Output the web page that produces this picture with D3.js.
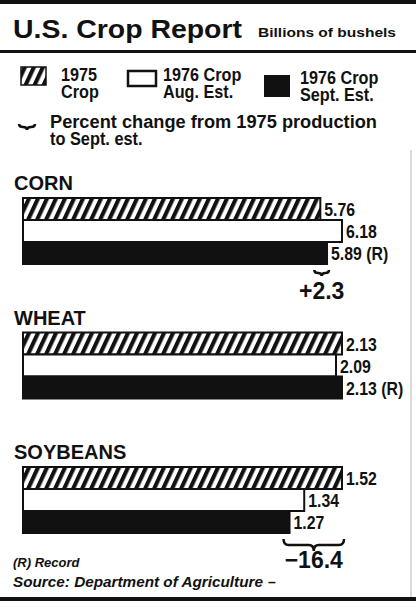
<!DOCTYPE html>
<html>
<head>
<meta charset="utf-8">
<script src="https://cdn.jsdelivr.net/npm/d3@7"></script>
<style>
  body { margin: 0; background: #fff; }
  svg { display: block; }
  .sans { font-family: "Liberation Sans", Arial, sans-serif; font-weight: bold; }
</style>
</head>
<body>
<svg id="chart"></svg>
<script>
// data, billions of bushels
const crops = ['CORN', 'WHEAT', 'SOYBEANS'];
const seriesKeys = ['1975', 'aug', 'sept'];
const crop1975 = [5.76, 2.13, 1.52];
const crop1976Aug = [6.18, 2.09, 1.34];
const crop1976Sept = [5.89, 2.13, 1.27];
const isRecord = [true, true, false];
const legendLabels = [['1975', 'Crop'], ['1976 Crop', 'Aug. Est.'], ['1976 Crop', 'Sept. Est.']];

const width = 416, height = 607;
const ink = '#111';

const svg = d3.select('#chart').attr('width', width).attr('height', height);

// newspaper type is condensed, so squeeze the bold sans horizontally
function condensed(parent, X, Y, size, sx) {
    return parent.append('text')
        .attr('class', 'sans')
        .attr('transform', `translate(${X},${Y}) scale(${sx},1)`)
        .attr('x', 0).attr('y', 0)
        .attr('font-size', size)
        .attr('fill', ink);
}

const defs = svg.append('defs');
const hatch = defs.append('pattern')
    .attr('id', 'hatch')
    .attr('patternUnits', 'userSpaceOnUse')
    .attr('width', 9).attr('height', 9)
    .attr('patternTransform', 'skewX(-25)');
hatch.append('rect').attr('width', 9).attr('height', 9).attr('fill', '#fff');
hatch.append('rect').attr('width', 4.5).attr('height', 9).attr('fill', ink);

const fills = {'1975': 'url(#hatch)', 'aug': '#fff', 'sept': ink};

// rules
svg.append('rect').attr('x', 0).attr('y', 0).attr('width', width).attr('height', 4).attr('fill', ink);
svg.append('rect').attr('x', 0).attr('y', 50).attr('width', width).attr('height', 3).attr('fill', ink);
svg.append('rect').attr('x', 0).attr('y', 597).attr('width', width).attr('height', 4).attr('fill', ink);
svg.append('line').attr('x1', 411).attr('x2', 411).attr('y1', 150).attr('y2', 597)
    .attr('stroke', '#ccc').attr('stroke-width', 1.5);

// title
svg.append('text').attr('class', 'sans')
    .attr('x', 13).attr('y', 38)
    .attr('font-size', 26)
    .attr('textLength', 229).attr('lengthAdjust', 'spacingAndGlyphs')
    .attr('fill', ink)
    .text('U.S. Crop Report');
svg.append('text').attr('class', 'sans')
    .attr('x', 258).attr('y', 37)
    .attr('font-size', 13)
    .attr('textLength', 138).attr('lengthAdjust', 'spacingAndGlyphs')
    .attr('fill', ink)
    .text('Billions of bushels');

// legend
const textX = [61, 163, 300];
const legend = svg.append('g');
legend.append('rect').attr('x', 21).attr('y', 67).attr('width', 25).attr('height', 18)
    .attr('fill', 'url(#hatch)').attr('stroke', ink).attr('stroke-width', 1.5);
legend.append('rect').attr('x', 128).attr('y', 71).attr('width', 28).attr('height', 15)
    .attr('fill', '#fff').attr('stroke', ink).attr('stroke-width', 2.5);
legend.append('rect').attr('x', 264).attr('y', 75).attr('width', 26).attr('height', 22)
    .attr('fill', ink);
legendLabels.forEach((lines, i) => {
    const t = condensed(legend, textX[i], 81 + (i === 2 ? 3 : 0), 18, 0.9);
    lines.forEach((l, j) => t.append('tspan').attr('x', 0).attr('dy', j ? 17 : 0).text(l));
});

function bracePath(x0, x1, y, h) {
    const xm = (x0 + x1) / 2, r = Math.min(5, (x1 - x0) / 4), mid = y + h / 2;
    return `M${x0},${y} Q${x0},${mid} ${x0 + r},${mid} L${xm - r},${mid} Q${xm},${mid} ${xm},${y + h}` +
        ` Q${xm},${mid} ${xm + r},${mid} L${x1 - r},${mid} Q${x1},${mid} ${x1},${y}`;
}

legend.append('path').attr('d', bracePath(19, 35, 124, 6))
    .attr('fill', 'none').attr('stroke', ink).attr('stroke-width', 2.5);
const pctNote = condensed(legend, 50, 128, 19, 0.86);
pctNote.append('tspan').attr('x', 0)
    .attr('textLength', 327 / 0.86).attr('lengthAdjust', 'spacingAndGlyphs')
    .text('Percent change from 1975 production');
pctNote.append('tspan').attr('x', 0).attr('dy', 17).text('to Sept. est.');

// groups, each drawn to its own scale like the original
const yGroup = d3.scaleBand().domain(crops).range([198, 198 + 134.5 * 3]);
const ySeries = d3.scaleBand().domain(seriesKeys).range([0, 66]);
const fmtVal = d3.format('.2f');
const fmtPct = d3.format('+.1f');

crops.forEach((crop, i) => {
    const vals = {'1975': crop1975[i], 'aug': crop1976Aug[i], 'sept': crop1976Sept[i]};
    const x = d3.scaleLinear()
        .domain([0, d3.max(seriesKeys, k => vals[k])])
        .range([23, 342]);
    const g = svg.append('g').attr('transform', `translate(0,${yGroup(crop)})`);

    g.append('text').attr('class', 'sans')
        .attr('x', 14).attr('y', -8)
        .attr('font-size', 20).attr('fill', ink)
        .text(crop);

    g.selectAll('rect.bar')
        .data(seriesKeys)
        .join('rect')
        .attr('class', 'bar')
        .attr('x', x(0))
        .attr('y', k => ySeries(k))
        .attr('width', k => x(vals[k]) - x(0))
        .attr('height', ySeries.bandwidth())
        .attr('fill', k => fills[k])
        .attr('stroke', ink)
        .attr('stroke-width', 2);

    seriesKeys.forEach(k => {
        condensed(g, x(vals[k]) + 4, ySeries(k) + ySeries.bandwidth() - 4, 18, 0.88)
            .text(fmtVal(vals[k]) + (k === 'sept' && isRecord[i] ? ' (R)' : ''));
    });

    const pct = (vals.sept - vals['1975']) / vals['1975'] * 100;
    if (Math.abs(pct) >= 0.05) {
        const x0 = Math.min(x(vals.sept), x(vals['1975'])) - 6;
        const x1 = Math.max(x(vals.sept), x(vals['1975'])) + 2;
        const bottom = ySeries.range()[1];
        const h = Math.min(12, Math.max(6, (x1 - x0) / 5));
        g.append('path').attr('d', bracePath(x0, x1, bottom + 6, h))
            .attr('fill', 'none').attr('stroke', ink).attr('stroke-width', 2.5);
        g.append('text').attr('class', 'sans')
            .attr('x', (x0 + x1) / 2).attr('y', bottom + 35)
            .attr('text-anchor', 'middle')
            .attr('font-size', 23).attr('fill', ink)
            .text(fmtPct(pct));
    }
});

// footnotes
svg.append('text').attr('class', 'sans')
    .attr('x', 13).attr('y', 567)
    .attr('font-size', 13).attr('font-style', 'italic').attr('fill', ink)
    .text('(R) Record');
svg.append('text').attr('class', 'sans')
    .attr('x', 13).attr('y', 587)
    .attr('font-size', 14).attr('font-style', 'italic').attr('fill', ink)
    .attr('textLength', 250).attr('lengthAdjust', 'spacingAndGlyphs')
    .text('Source: Department of Agriculture');
svg.append('text').attr('class', 'sans')
    .attr('x', 268).attr('y', 587)
    .attr('font-size', 14).attr('fill', ink)
    .text('–');
</script>
</body>
</html>
